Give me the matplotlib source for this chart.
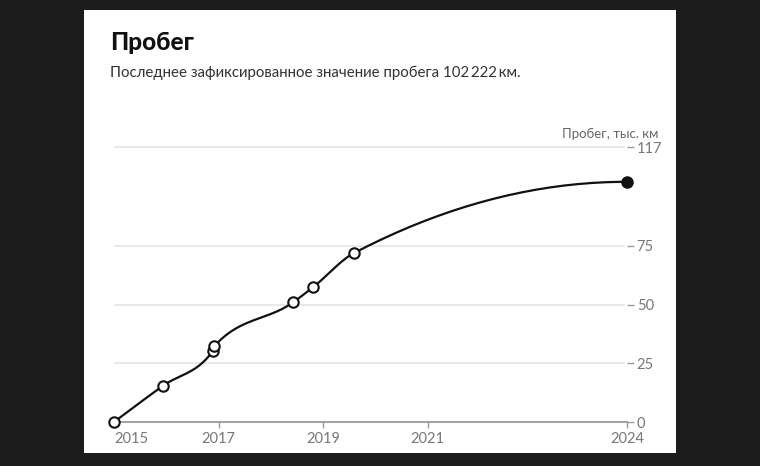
import matplotlib.pyplot as plt
import numpy as np
from matplotlib.patches import Rectangle

# measurements: decimal year, thousand km
years = [2015.0, 2015.93, 2016.89, 2016.92, 2018.43, 2018.81, 2019.59, 2024.81]
km = [0.0, 15.3, 30.2, 32.3, 51.0, 57.4, 71.9, 102.222]

y_ticks = [0, 25, 50, 75, 117]
x_ticks = [2015.0, 2017, 2019, 2021, 2024.81]
x_labels = ['2015', '2017', '2019', '2021', '2024']

plt.rcParams['font.family'] = ['Lato', 'DejaVu Sans']


def monotone_x(x, y, n=40):
    # roughly d3 curveMonotoneX, but the line flattens out at the last point
    x = np.asarray(x, float)
    y = np.asarray(y, float)
    h = np.diff(x)
    s = np.diff(y) / h
    t = np.zeros(len(x))
    for i in range(1, len(x) - 1):
        p = (s[i-1]*h[i] + s[i]*h[i-1]) / (h[i-1] + h[i])
        t[i] = (np.sign(s[i-1]) + np.sign(s[i])) * min(abs(s[i-1]), abs(s[i]), 0.5*abs(p))
    t[0] = (3*s[0] - t[1]) / 2
    t[-1] = 0.0
    xs, ys = [], []
    for i in range(len(x) - 1):
        u = np.linspace(0, 1, n)
        h00 = 2*u**3 - 3*u**2 + 1
        h10 = u**3 - 2*u**2 + u
        h01 = -2*u**3 + 3*u**2
        h11 = u**3 - u**2
        xs.append(x[i] + u*h[i])
        ys.append(h00*y[i] + h10*h[i]*t[i] + h01*y[i+1] + h11*h[i]*t[i+1])
    return np.concatenate(xs), np.concatenate(ys)


fig = plt.figure(figsize=(7.6, 4.66), dpi=100)
fig.patch.set_facecolor('#1c1c1c')
fig.patches.append(Rectangle((84/760, 1-453/466), 592/760, 443/466,
                             transform=fig.transFigure, facecolor='white',
                             edgecolor='none', zorder=-5))

ax = fig.add_axes([100/760, 1-422/466, 527/760, 282/466])
ax.set_zorder(2)
ax.set_facecolor('none')
ax.set_xlim(2014.733, 2024.771)
ax.set_ylim(0, 120.0)

for v in y_ticks[1:]:
    ax.hlines(v, years[0], 2024.771, color='#e4e4e4', lw=1.2, zorder=1)

for sp in ['top', 'left', 'right']:
    ax.spines[sp].set_visible(False)
ax.spines['bottom'].set_bounds(years[0], 2024.81)
ax.spines['bottom'].set_color('#9a9a9a')
ax.spines['bottom'].set_linewidth(1.3)

ax.yaxis.tick_right()
ax.set_yticks(y_ticks)
ax.set_yticklabels([str(v) for v in y_ticks])
ax.tick_params(axis='y', length=5, width=1, color='#9a9a9a', pad=2,
               labelsize=10.5, labelcolor='#777777')
ax.set_xticks(x_ticks)
ax.set_xticklabels(x_labels)
ax.tick_params(axis='x', length=4, width=1, color='#9a9a9a', pad=3,
               labelsize=10.5, labelcolor='#777777')
ax.xaxis.get_major_ticks()[0].tick1line.set_visible(False)
ax.get_xticklabels()[0].set_horizontalalignment('left')

cx, cy = monotone_x(years, km)
ax.plot(cx, cy, color='#111111', lw=1.6, zorder=3, clip_on=False)
ax.plot(years[:-1], km[:-1], 'o', ms=7.5, mfc='white', mec='#111111', mew=1.5,
        zorder=4, clip_on=False)
ax.plot(years[-1], km[-1], 'o', ms=8, color='#111111', zorder=4, clip_on=False)

fig.text(110/760, 1-43/466, 'Пробег', fontsize=17.5, fontweight='black',
         color='#111111', va='center', ha='left')
fig.text(110/760, 1-73/466, 'Последнее зафиксированное значение пробега 102\u2009222\u2009км.',
         fontsize=10.8, color='#333333', va='center', ha='left')
fig.text(658/760, 1-134/466, 'Пробег, тыс. км', fontsize=9.5, color='#666666',
         va='center', ha='right')

fig.savefig('out.png', dpi=100, facecolor=fig.get_facecolor())
